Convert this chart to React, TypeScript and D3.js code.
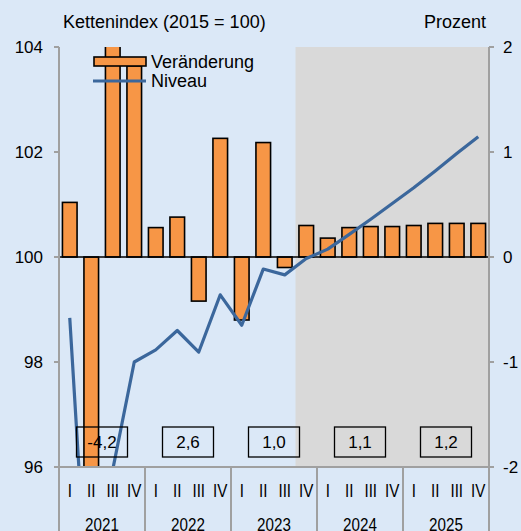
import { useEffect, useRef } from "react"
import * as d3 from "d3"

// quarters 2021 Q1 .. 2025 Q4
const years = ["2021", "2022", "2023", "2024", "2025"]
const quarterNames = ["I", "II", "III", "IV"]
// Veränderung gegenüber Vorquartal in Prozent (right axis)
const changes = [
  0.52, -6.8, 4.2, 1.82,
  0.28, 0.38, -0.42, 1.13,
  -0.6, 1.09, -0.1, 0.3,
  0.18, 0.28, 0.29, 0.29,
  0.3, 0.32, 0.32, 0.32,
]
// Niveau, Kettenindex 2015 = 100 (left axis)
const levels = [
  98.84, 92.15, 95.95, 98.0,
  98.23, 98.6, 98.19, 99.28,
  98.7, 99.77, 99.66, 99.97,
  100.15, 100.43, 100.72, 101.02,
  101.32, 101.64, 101.97, 102.29,
]
const annualRates = ["-4,2", "2,6", "1,0", "1,1", "1,2"]
const leftTicks = [96, 98, 100, 102, 104]
const rightTicks = [-2, -1, 0, 1, 2]
const forecastStart = 11 // 2023 Q4

export default function App() {
  const svgRef = useRef<SVGSVGElement>(null)

  useEffect(() => {
    if (!svgRef.current) return
    const svg = d3.select(svgRef.current)
    svg.selectAll("*").remove()

    const W = 521
    const H = 531
    const left = 59
    const right = 489
    const top = 47
    const bottom = 467
    const font = "'Liberation Sans', Arial, sans-serif"
    const narrow = "'Liberation Sans Narrow', 'Liberation Sans', Arial, sans-serif"
    const axisGrey = "#a0a0a0"

    const x = d3
      .scaleBand<number>()
      .domain(d3.range(changes.length))
      .range([left, right])
      .paddingInner(0.32)
      .paddingOuter(0.16)
    const step = x.step()
    const cx = (i: number) => (x(i) || 0) + x.bandwidth() / 2
    const yL = d3.scaleLinear().domain([96, 104]).range([bottom, top])
    const yR = d3.scaleLinear().domain([-2, 2]).range([bottom, top])

    svg.append("rect").attr("width", W).attr("height", H).attr("fill", "#dbe8f7")

    // forecast shading
    svg
      .append("rect")
      .attr("x", left + forecastStart * step)
      .attr("y", top)
      .attr("width", right - (left + forecastStart * step))
      .attr("height", bottom - top)
      .attr("fill", "#d9d9d9")

    svg
      .append("clipPath")
      .attr("id", "plot")
      .append("rect")
      .attr("x", left)
      .attr("y", top)
      .attr("width", right - left)
      .attr("height", bottom - top)

    const plot = svg.append("g").attr("clip-path", "url(#plot)")

    // bars
    plot
      .selectAll(".bar")
      .data(changes)
      .enter()
      .append("rect")
      .attr("x", (_, i) => x(i) || 0)
      .attr("y", (d) => yR(Math.max(0, d)))
      .attr("width", x.bandwidth())
      .attr("height", (d) => Math.abs(yR(d) - yR(0)))
      .attr("fill", "#f79646")
      .attr("stroke", "#000")
      .attr("stroke-width", 1.6)

    // zero line
    plot
      .append("line")
      .attr("x1", left)
      .attr("x2", right)
      .attr("y1", yR(0))
      .attr("y2", yR(0))
      .attr("stroke", "#000")
      .attr("stroke-width", 1.6)

    // level line
    const line = d3
      .line<number>()
      .x((_, i) => cx(i))
      .y((d) => yL(d))
    plot
      .append("path")
      .datum(levels)
      .attr("d", line)
      .attr("fill", "none")
      .attr("stroke", "#3b679c")
      .attr("stroke-width", 3.2)
      .attr("stroke-linejoin", "round")

    // axes
    svg
      .append("line")
      .attr("x1", left)
      .attr("x2", left)
      .attr("y1", top)
      .attr("y2", H)
      .attr("stroke", axisGrey)
      .attr("stroke-width", 2)
    svg
      .append("line")
      .attr("x1", right)
      .attr("x2", right)
      .attr("y1", top)
      .attr("y2", H)
      .attr("stroke", axisGrey)
      .attr("stroke-width", 2)
    svg
      .append("line")
      .attr("x1", left - 5)
      .attr("x2", right + 5)
      .attr("y1", bottom)
      .attr("y2", bottom)
      .attr("stroke", axisGrey)
      .attr("stroke-width", 2)

    leftTicks.forEach((t) => {
      svg
        .append("line")
        .attr("x1", left - 5)
        .attr("x2", left)
        .attr("y1", yL(t))
        .attr("y2", yL(t))
        .attr("stroke", axisGrey)
        .attr("stroke-width", 2)
      svg
        .append("text")
        .attr("x", 43)
        .attr("y", yL(t))
        .attr("dy", "0.35em")
        .attr("text-anchor", "end")
        .attr("font-family", font)
        .attr("font-size", 17)
        .text(t)
    })
    rightTicks.forEach((t) => {
      svg
        .append("line")
        .attr("x1", right)
        .attr("x2", right + 5)
        .attr("y1", yR(t))
        .attr("y2", yR(t))
        .attr("stroke", axisGrey)
        .attr("stroke-width", 2)
      svg
        .append("text")
        .attr("x", 503)
        .attr("y", yR(t))
        .attr("dy", "0.35em")
        .attr("text-anchor", "start")
        .attr("font-family", font)
        .attr("font-size", 17)
        .text(t)
    })

    // year separators and labels
    years.forEach((yr, k) => {
      const x0 = left + k * 4 * step
      const x1 = x0 + 4 * step
      if (k > 0) {
        svg
          .append("line")
          .attr("x1", x0)
          .attr("x2", x0)
          .attr("y1", bottom)
          .attr("y2", H)
          .attr("stroke", axisGrey)
          .attr("stroke-width", 2)
      }
      svg
        .append("text")
        .attr("transform", `translate(${(x0 + x1) / 2},531) scale(0.8,1)`)
        .attr("text-anchor", "middle")
        .attr("font-family", narrow)
        .attr("font-size", 19)
        .text(yr)

      // annual rate box
      const bx = (x0 + x1) / 2
      svg
        .append("rect")
        .attr("x", bx - 25.5)
        .attr("y", 427)
        .attr("width", 51)
        .attr("height", 30)
        .attr("fill", "none")
        .attr("stroke", "#000")
        .attr("stroke-width", 1.3)
      svg
        .append("text")
        .attr("x", bx)
        .attr("y", 442)
        .attr("dy", "0.35em")
        .attr("text-anchor", "middle")
        .attr("font-family", font)
        .attr("font-size", 17)
        .text(annualRates[k])
    })

    changes.forEach((_, i) => {
      svg
        .append("text")
        .attr("transform", `translate(${cx(i)},497) scale(0.8,1)`)
        .attr("text-anchor", "middle")
        .attr("font-family", narrow)
        .attr("font-size", 19)
        .text(quarterNames[i % 4])
    })

    // titles
    svg
      .append("text")
      .attr("x", 63)
      .attr("y", 28)
      .attr("font-family", font)
      .attr("font-size", 18)
      .text("Kettenindex (2015 = 100)")
    svg
      .append("text")
      .attr("x", 486)
      .attr("y", 28)
      .attr("text-anchor", "end")
      .attr("font-family", font)
      .attr("font-size", 18)
      .text("Prozent")

    // legend
    svg
      .append("rect")
      .attr("x", 94)
      .attr("y", 57)
      .attr("width", 52)
      .attr("height", 9)
      .attr("fill", "#f79646")
      .attr("stroke", "#000")
      .attr("stroke-width", 1.6)
    svg
      .append("text")
      .attr("x", 151)
      .attr("y", 61.5)
      .attr("dy", "0.35em")
      .attr("font-family", font)
      .attr("font-size", 18)
      .text("Veränderung")
    svg
      .append("line")
      .attr("x1", 93)
      .attr("x2", 146)
      .attr("y1", 81)
      .attr("y2", 81)
      .attr("stroke", "#3b679c")
      .attr("stroke-width", 3.2)
    svg
      .append("text")
      .attr("x", 151)
      .attr("y", 81)
      .attr("dy", "0.35em")
      .attr("font-family", font)
      .attr("font-size", 18)
      .text("Niveau")
  }, [])

  return (
    <div style={{ position: "fixed", left: 0, top: 0 }}>
      <svg ref={svgRef} width={521} height={531} style={{ display: "block" }} />
    </div>
  )
}
